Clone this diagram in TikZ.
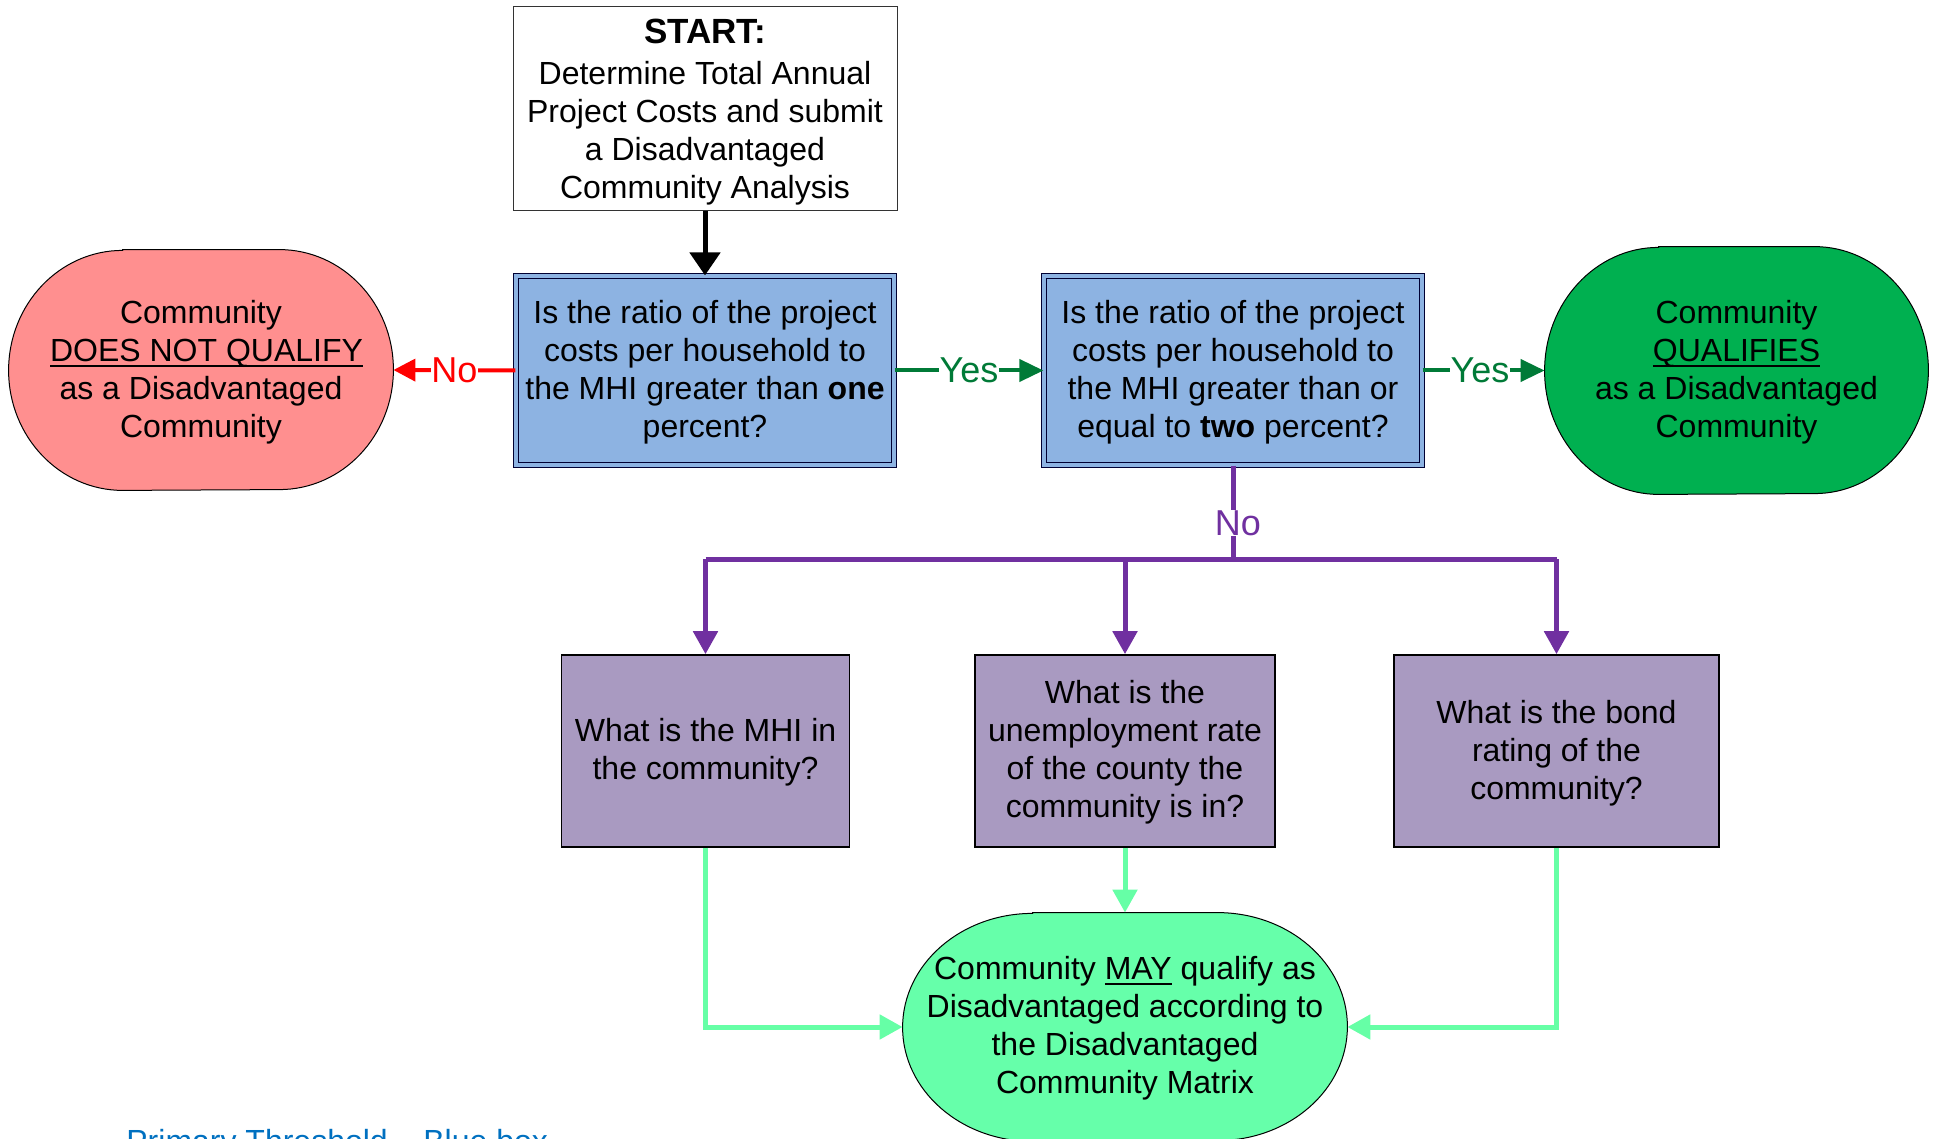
\documentclass[tikz,border=0pt]{standalone}
\usepackage{fontspec}
\setmainfont{Liberation Sans}
\usetikzlibrary{arrows.meta,calc,backgrounds}
\definecolor{ovred}{HTML}{FF8F8F}
\definecolor{ovgreen}{HTML}{00B050}
\definecolor{ovmint}{HTML}{66FFAA}
\definecolor{qblue}{HTML}{8DB3E2}
\definecolor{qpurple}{HTML}{A99AC1}
\definecolor{lnred}{HTML}{FF0000}
\definecolor{lngreen}{HTML}{007A37}
\definecolor{lnpurple}{HTML}{7030A0}
\definecolor{lnmint}{HTML}{66FFA6}
\definecolor{captblue}{HTML}{0070C0}
\newcommand\myul[1]{\leavevmode\setbox0=\hbox{#1}\rlap{\rule[-2.7pt]{\wd0}{0.9pt}}\box0\relax}
\newcommand\pill[4]{% name, fill, x radius (pt), y radius (pt)
  \begin{pgfonlayer}{background}
    \filldraw[fill=#2, draw=black, line width=0.5pt]
      ($(#1.north west)+(#3,0pt)$) -- ($(#1.north east)+(-#3,0pt)$)
      arc[start angle=90, end angle=-90, x radius=#3, y radius=#4]
      -- ($(#1.south west)+(#3,0pt)$)
      arc[start angle=270, end angle=90, x radius=#3, y radius=#4] -- cycle;
  \end{pgfonlayer}}
\tikzset{
  txt/.style={font=\fontsize{16pt}{19pt}\selectfont, align=center, inner sep=0pt},
  startbox/.style={txt, draw=black!80, line width=0.5pt, fill=white, text depth=0.3pt},
  qbox/.style={txt, draw=black!80!blue, line width=0.6pt, double=qblue, double distance=2pt, fill=qblue, text depth=1.3pt},
  pbox/.style={txt, draw=black, line width=0.8pt, fill=qpurple, text depth=2.2pt},
  ovalnode/.style={txt, text depth=1.3pt},
  lbl/.style={font=\fontsize{18pt}{20pt}\selectfont, fill=white, inner sep=0.3pt},
  blackarrow/.style={line width=2.5pt, -{Triangle[length=11.5pt,width=15pt]}},
  redarrow/.style={lnred, line width=2pt, -{Triangle[length=11pt,width=11pt]}},
  greenarrow/.style={lngreen, line width=2pt, -{Triangle[length=12pt,width=11pt]}},
  purplearrow/.style={lnpurple, line width=2.5pt, -{Triangle[length=11.5pt,width=12pt]}},
  purpleline/.style={lnpurple, line width=2.5pt},
  mintarrow/.style={lnmint, line width=2.5pt, -{Triangle[length=11.5pt,width=12pt]}},
}
\begin{document}
\begin{tikzpicture}[x=0.5pt, y=-0.5pt]
\useasboundingbox (0,0) rectangle (1935,1139);

% start box
\node[startbox, minimum width=192pt, minimum height=102pt] (start) at (705,109)
  {{\fontsize{17.5pt}{19pt}\selectfont\bfseries START:}\\[1.35pt]Determine Total Annual\\Project Costs and submit\\a Disadvantaged\\Community Analysis};

% question boxes
\node[qbox, minimum width=189pt, minimum height=94.5pt] (q1) at (705,370.5)
  {Is the ratio of the project\\costs per household to\\the MHI greater than \textbf{one}\\percent?};
\node[qbox, minimum width=189pt, minimum height=94.5pt] (q2) at (1233,370.5)
  {Is the ratio of the project\\costs per household to\\the MHI greater than or\\equal to \textbf{two} percent?};

% outcome ovals
\node[ovalnode, minimum width=192pt, minimum height=120pt] (no) at (201,370)
  {Community\\\hspace*{5.5pt}\myul{DOES NOT QUALIFY}\\as a Disadvantaged\\Community};
\pill{no}{ovred}{57pt}{60pt}
\node[ovalnode, minimum width=191.5pt, minimum height=123.5pt] (yes) at (1736.5,370.5)
  {Community\\\myul{QUALIFIES}\\as a Disadvantaged\\Community};
\pill{yes}{ovgreen}{57pt}{61.75pt}

% secondary questions
\node[pbox, minimum width=144pt, minimum height=96pt] (pa) at (705.5,751)
  {What is the MHI in\\the community?};
\node[pbox, minimum width=150pt, minimum height=96pt] (pb) at (1125,751)
  {What is the\\unemployment rate\\of the county the\\community is in?};
\node[pbox, minimum width=162.5pt, minimum height=96pt, text depth=1.3pt] (pc) at (1556.5,751)
  {What is the bond\\rating of the\\community?};

% matrix oval
\node[ovalnode, minimum width=222pt, minimum height=114pt, text depth=2.2pt] (may) at (1125,1027)
  {Community \myul{MAY} qualify as\\Disadvantaged according to\\the Disadvantaged\\Community Matrix};
\pill{may}{ovmint}{65pt}{57pt}

% connectors
\draw[blackarrow] (start.south) -- (q1.north);
\draw[redarrow] (q1.west) -- node[lbl, text=lnred] {No} (no.east);
\draw[greenarrow] (q1.east) -- node[lbl, text=lngreen] {Yes} (q2.west);
\draw[greenarrow] (q2.east) -- node[lbl, text=lngreen, pos=0.47] {Yes} (yes.west);

\coordinate (split) at (1233,559);
\draw[purpleline] (q2.south) -- (split);
\node[lbl, text=lnpurple] (nolbl) at (1238,523) {No};
\draw[purpleline] (pa.north |- split) -- (pc.north |- split);
\draw[purplearrow] (pa.north |- split) -- (pa.north);
\draw[purplearrow] (pb.north |- split) -- (pb.north);
\draw[purplearrow] (pc.north |- split) -- (pc.north);

\draw[mintarrow] (pb.south) -- (may.north);
\draw[mintarrow] (pa.south) |- (may.west);
\draw[mintarrow] (pc.south) |- (may.east);

% caption (cut off by the page edge, as in the original)
\node[anchor=base west, inner sep=0pt, text=captblue, font=\fontsize{16pt}{19pt}\selectfont] (cap) at (126,1152)
  {Primary Threshold -- Blue box};
\end{tikzpicture}
\end{document}
